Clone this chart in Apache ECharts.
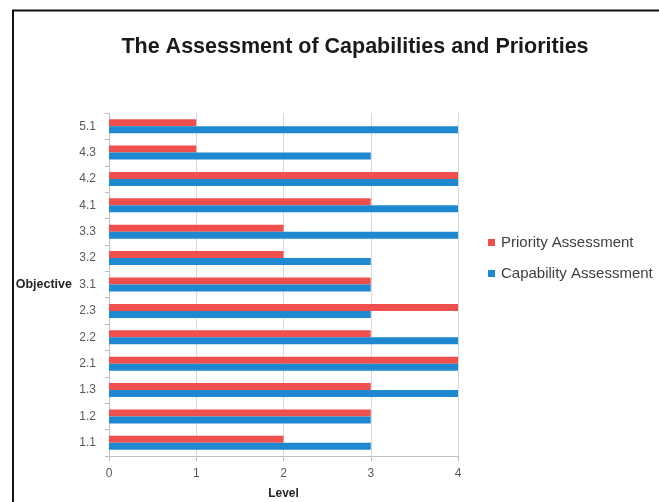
<!DOCTYPE html>
<html>
<head>
<meta charset="utf-8">
<script src="https://cdn.jsdelivr.net/npm/echarts@6/dist/echarts.min.js"></script>
<style>
html,body{margin:0;padding:0;background:#fff;overflow:hidden;}
#c{width:659px;height:502px;}
</style>
</head>
<body>
<div id="c"></div>
<script>
const categories = ['1.1','1.2','1.3','2.1','2.2','2.3','3.1','3.2','3.3','4.1','4.2','4.3','5.1'];
const priority   = [2, 3, 3, 4, 3, 4, 3, 2, 2, 3, 4, 1, 1];
const capability = [3, 3, 4, 4, 4, 3, 3, 3, 4, 4, 4, 3, 4];
const levelTicks = [0, 1, 2, 3, 4];

const FONT = '"Liberation Sans Narrow", "Liberation Sans", sans-serif';
const chart = echarts.init(document.getElementById('c'), null, {renderer: 'canvas'});
chart.setOption({
  animation: false,
  backgroundColor: '#ffffff',
  title: {
    text: 'The Assessment of Capabilities and Priorities',
    left: 350, top: 31, textAlign: 'center',
    textStyle: {fontFamily: FONT, fontWeight: 'bold', fontSize: 21.5, color: '#1a1a1a'}
  },
  legend: {
    orient: 'vertical', left: 483, top: 230,
    itemWidth: 7, itemHeight: 7, itemGap: 16,
    icon: 'rect',
    textStyle: {fontFamily: FONT, fontSize: 15, color: '#404040', padding: [0,0,0,1]},
    data: ['Priority Assessment', 'Capability Assessment']
  },
  grid: {left: 109, width: 349, top: 113, height: 343, containLabel: false, outerBoundsMode: 'none'},
  xAxis: {
    type: 'value', min: levelTicks[0], max: levelTicks[levelTicks.length-1], interval: 1,
    name: 'Level', nameLocation: 'middle', nameGap: 32,
    nameTextStyle: {fontFamily: FONT, fontWeight: 'bold', fontSize: 12, color: '#262626'},
    axisLine: {show: true, lineStyle: {color: '#BFBFBF', width: 1}},
    axisTick: {show: true, length: 5, lineStyle: {color: '#BFBFBF'}},
    axisLabel: {fontFamily: FONT, fontSize: 12, color: '#595959', margin: 12},
    splitLine: {show: true, lineStyle: {color: '#D9D9D9', width: 1}}
  },
  yAxis: {
    type: 'category', data: categories,
    name: 'Objective', nameLocation: 'middle', nameGap: 37, nameRotate: 0,
    nameTextStyle: {fontFamily: FONT, fontWeight: 'bold', fontSize: 12.5, color: '#262626', align: 'right'},
    axisLine: {show: true, lineStyle: {color: '#BFBFBF', width: 1}},
    axisTick: {show: true, length: 4, lineStyle: {color: '#BFBFBF'}},
    axisLabel: {fontFamily: FONT, fontSize: 12, color: '#595959', margin: 13},
    splitLine: {show: false}
  },
  series: [
    {name: 'Priority Assessment', type: 'bar', data: priority, barWidth: 7, barGap: '0%',
     itemStyle: {color: '#EF504D'}},
    {name: 'Capability Assessment', type: 'bar', data: capability, barWidth: 7, barGap: '0%',
     itemStyle: {color: '#1E88D0'}}
  ],
  graphic: [
    {type: 'line', shape: {x1: 12, y1: 10.5, x2: 659, y2: 10.5}, style: {stroke: '#111', lineWidth: 2}, z: 100},
    {type: 'line', shape: {x1: 13, y1: 10, x2: 13, y2: 502}, style: {stroke: '#111', lineWidth: 2}, z: 100}
  ]
});
</script>
</body>
</html>
